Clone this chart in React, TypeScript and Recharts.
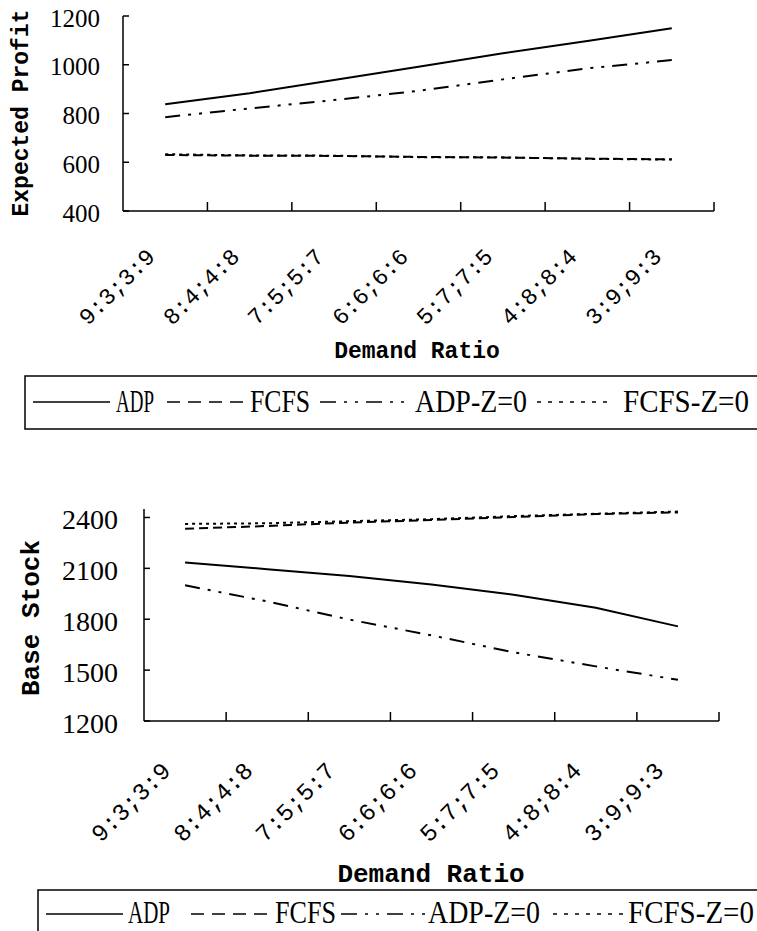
import React from 'react';
import { LineChart, Line, XAxis, YAxis, Legend } from 'recharts';

// ---------- data ----------
const categories = ['9:3;3:9', '8:4;4:8', '7:5;5:7', '6:6;6:6', '5:7;7:5', '4:8;8:4', '3:9;9:3'];

const profitADP = [838, 883, 937, 992, 1047, 1097, 1150];
const profitFCFS = [630, 627, 626, 622, 619, 615, 612];
const profitADPZ0 = [785, 821, 855, 893, 940, 985, 1019];
const profitFCFSZ0 = [633, 628, 627, 621, 620, 614, 611];

const stockADP = [2135, 2095, 2055, 2005, 1945, 1868, 1758];
const stockFCFS = [2333, 2350, 2370, 2385, 2403, 2420, 2430];
const stockADPZ0 = [2000, 1905, 1798, 1705, 1605, 1522, 1443];
const stockFCFSZ0 = [2362, 2366, 2378, 2390, 2408, 2422, 2435];

const profitTicks = [400, 600, 800, 1000, 1200];
const stockTicks = [1200, 1500, 1800, 2100, 2400];

const seriesKeys = ['adp', 'fcfs', 'adpz', 'fcfsz'];
const seriesNames = ['ADP', 'FCFS', 'ADP-Z=0', 'FCFS-Z=0'];

// ---------- styles ----------
const chartDash: (string | undefined)[] = [undefined, '9 5', '15 8 3 8 3 8', '3 4'];
const legendDash: (string | undefined)[] = [undefined, '13 8', '16 8 3 8 3 8', '4 7'];

const MONO = "'Liberation Mono', 'DejaVu Sans Mono', monospace";
const SERIF = "'Liberation Serif', 'DejaVu Serif', serif";

function buildRows(a: number[], b: number[], c: number[], d: number[]) {
  return categories.map((cat, i) => ({ cat, adp: a[i], fcfs: b[i], adpz: c[i], fcfsz: d[i] }));
}

const profitRows = buildRows(profitADP, profitFCFS, profitADPZ0, profitFCFSZ0);
const stockRows = buildRows(stockADP, stockFCFS, stockADPZ0, stockFCFSZ0);

type Cfg = {
  top: number;
  height: number;
  axisX: number;
  plotTop: number;
  axisY: number;
  plotRight: number;
  domain: [number, number];
  ticks: number[];
  yTitle: string;
  yTitleX: number;
  yTitleY: number;
  titleFs: number;
  xTitleX: number;
  xTitleBase: number;
  xfs: number;
  xdx: number;
  xdy: number;
  yfs: number;
  ygap: number;
  ydy: number;
  legend: {
    top: number;
    h: number;
    boxLeft: number;
    boxH: number;
    lineY: number;
    base: number;
    fs: number;
    items: { l0: number; l1: number; tx: number; tl: number }[];
  };
};

const topCfg: Cfg = {
  top: 0,
  height: 460,
  axisX: 123,
  plotTop: 16,
  axisY: 211,
  plotRight: 714,
  domain: [400, 1200],
  ticks: profitTicks,
  yTitle: 'Expected Profit',
  yTitleX: 22,
  yTitleY: 113,
  titleFs: 23,
  xTitleX: 417,
  xTitleBase: 358,
  xfs: 23,
  xdx: -9,
  xdy: 47,
  yfs: 25,
  ygap: 23,
  ydy: 2,
  legend: {
    top: 375,
    h: 56,
    boxLeft: 25,
    boxH: 53,
    lineY: 27,
    base: 37,
    fs: 31,
    items: [
      { l0: 33, l1: 110, tx: 116, tl: 38 },
      { l0: 167, l1: 245, tx: 250, tl: 60 },
      { l0: 320, l1: 407, tx: 415, tl: 112 },
      { l0: 537, l1: 612, tx: 623, tl: 126 },
    ],
  },
};

const bottomCfg: Cfg = {
  top: 460,
  height: 471,
  axisX: 144,
  plotTop: 49,
  axisY: 261,
  plotRight: 719,
  domain: [1200, 2450],
  ticks: stockTicks,
  yTitle: 'Base Stock',
  yTitleX: 32,
  yTitleY: 158,
  titleFs: 26,
  xTitleX: 431,
  xTitleBase: 422,
  xfs: 24,
  xdx: -13,
  xdy: 51,
  yfs: 28,
  ygap: 26,
  ydy: 2,
  legend: {
    top: 429,
    h: 60,
    boxLeft: 38,
    boxH: 70,
    lineY: 25,
    base: 34,
    fs: 31,
    items: [
      { l0: 46, l1: 123, tx: 128, tl: 42 },
      { l0: 191, l1: 270, tx: 275, tl: 61 },
      { l0: 341, l1: 425, tx: 428, tl: 112 },
      { l0: 553, l1: 623, tx: 628, tl: 126 },
    ],
  },
};

function LegendBox({ cfg }: { cfg: Cfg }) {
  const L = cfg.legend;
  return (
    <svg width={757} height={L.h} style={{ display: 'block' }}>
      <rect x={L.boxLeft} y={1} width={800} height={L.boxH} fill="none" stroke="#000" strokeWidth={1.5} />
      {L.items.map((it, i) => (
        <g key={i}>
          <line
            x1={it.l0}
            x2={it.l1}
            y1={L.lineY}
            y2={L.lineY}
            stroke="#000"
            strokeWidth={1.6}
            strokeDasharray={legendDash[i]}
          />
          <text
            x={it.tx}
            y={L.base}
            textLength={it.tl}
            lengthAdjust="spacingAndGlyphs"
            fontFamily={SERIF}
            fontSize={L.fs}
            fill="#000"
          >
            {seriesNames[i]}
          </text>
        </g>
      ))}
    </svg>
  );
}

function Panel({ cfg, rows }: { cfg: Cfg; rows: any[] }) {
  const plotW = cfg.plotRight - cfg.axisX;
  const step = plotW / categories.length;
  const half = step / 2;

  const xTick = (props: any) => {
    const cx = props.payload && typeof props.payload.coordinate === 'number' ? props.payload.coordinate : props.x;
    const ax = cx + cfg.xdx;
    const ay = cfg.axisY + cfg.xdy;
    return (
      <g>
        <line x1={cx + half} x2={cx + half} y1={cfg.axisY} y2={cfg.axisY - 9} stroke="#000" strokeWidth={1.5} />
        <text
          x={ax}
          y={ay}
          transform={`rotate(-45 ${ax} ${ay})`}
          textAnchor="end"
          fontFamily={MONO}
          fontSize={cfg.xfs}
          fill="#000"
        >
          {props.payload.value}
        </text>
      </g>
    );
  };

  const yTick = (props: any) => {
    const y = props.y;
    return (
      <g>
        <line x1={cfg.axisX} x2={cfg.axisX + 6} y1={y} y2={y} stroke="#000" strokeWidth={1.5} />
        <text
          x={cfg.axisX - cfg.ygap}
          y={y + cfg.ydy}
          textAnchor="end"
          dominantBaseline="central"
          fontFamily={SERIF}
          fontSize={cfg.yfs}
          fill="#000"
        >
          {props.payload.value}
        </text>
      </g>
    );
  };

  const yTitle = () => (
    <text
      x={cfg.yTitleX}
      y={cfg.yTitleY}
      transform={`rotate(-90 ${cfg.yTitleX} ${cfg.yTitleY})`}
      textAnchor="middle"
      dominantBaseline="central"
      fontFamily={MONO}
      fontWeight="bold"
      fontSize={cfg.titleFs}
      fill="#000"
    >
      {cfg.yTitle}
    </text>
  );

  const xTitle = () => (
    <text
      x={cfg.xTitleX}
      y={cfg.xTitleBase}
      textAnchor="middle"
      fontFamily={MONO}
      fontWeight="bold"
      fontSize={cfg.titleFs}
      fill="#000"
    >
      Demand Ratio
    </text>
  );

  return (
    <div style={{ position: 'absolute', left: 0, top: cfg.top, width: 757, height: cfg.height }}>
      <LineChart
        width={757}
        height={cfg.height}
        data={rows}
        margin={{ top: cfg.plotTop, right: 757 - cfg.plotRight, bottom: 0, left: 0 }}
      >
        <XAxis
          dataKey="cat"
          type="category"
          interval={0}
          padding={{ left: half, right: half }}
          height={cfg.height - cfg.axisY}
          tickLine={false}
          axisLine={{ stroke: '#000', strokeWidth: 1.5 }}
          tick={xTick}
          label={xTitle}
        />
        <YAxis
          type="number"
          domain={cfg.domain}
          ticks={cfg.ticks}
          allowDataOverflow
          width={cfg.axisX}
          tickLine={false}
          axisLine={{ stroke: '#000', strokeWidth: 1.5 }}
          tick={yTick}
          label={yTitle}
        />
        {seriesKeys.map((k, i) => (
          <Line
            key={k}
            type="linear"
            dataKey={k}
            name={seriesNames[i]}
            stroke="#000"
            strokeWidth={2}
            strokeDasharray={chartDash[i]}
            dot={false}
            activeDot={false}
            isAnimationActive={false}
          />
        ))}
        <Legend
          layout="horizontal"
          verticalAlign="middle"
          align="center"
          content={() => <LegendBox cfg={cfg} />}
          wrapperStyle={{ left: 0, top: cfg.legend.top, width: 757, height: cfg.legend.h, margin: 0, padding: 0 }}
        />
      </LineChart>
    </div>
  );
}

export default function App() {
  return (
    <div
      style={{
        position: 'absolute',
        left: 0,
        top: 0,
        width: 757,
        height: 931,
        overflow: 'hidden',
        background: '#fff',
      }}
    >
      <Panel cfg={topCfg} rows={profitRows} />
      <Panel cfg={bottomCfg} rows={stockRows} />
    </div>
  );
}
